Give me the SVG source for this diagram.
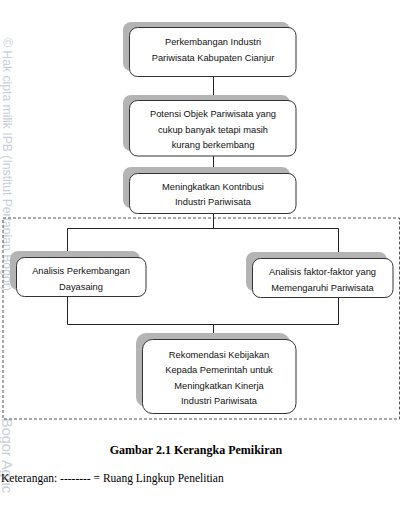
<svg xmlns="http://www.w3.org/2000/svg" width="401" height="516" viewBox="0 0 401 516">
<style>
.box{fill:#fff;stroke:#333;stroke-width:1}
.sh{fill:#b4b4b4}
.t{font-family:"Liberation Sans",Arial,sans-serif;font-size:9.3px;fill:#111;text-anchor:middle}
.ln{stroke:#222;stroke-width:1;fill:none}
.wm{font-family:"Liberation Sans",Arial,sans-serif;fill:#c9ced8}
.cap{font-family:"Liberation Serif","Times New Roman",serif;fill:#000}
</style>
<rect width="401" height="516" fill="#fff"/>
<g id="watermark">
<text class="wm" font-size="12.2" transform="translate(2.5,38) rotate(90)">© Hak cipta milik IPB (Institut Pertanian Bogor)</text>
<text class="wm" font-size="14.5" transform="translate(1.5,418) rotate(90)">Bogor Agric</text>
</g>
<g id="scope">
<rect x="3" y="218" width="396.5" height="201" fill="none" stroke="#555" stroke-width="1" stroke-dasharray="3,2"/>
</g>
<g id="connectors">
<path class="ln" d="M213.5 76V100M213.5 156V173M213.5 213V228.5M67.5 228.5H338.5M67.5 228.5V257M338.5 228.5V258M67.5 296V324.5M338.5 297V324.5M67.5 324.5H338.5M213.5 324.5V339"/>
</g>
<g id="n1">
<rect class="sh" x="123" y="22" width="167" height="49" rx="8"/>
<rect class="box" x="129.5" y="27.5" width="166.5" height="49" rx="8"/>
<text class="t" x="213" y="44.5">Perkembangan Industri</text>
<text class="t" x="213" y="60.5">Pariwisata Kabupaten Cianjur</text>
</g>
<g id="n2">
<rect class="sh" x="123" y="95" width="167" height="56" rx="8"/>
<rect class="box" x="129.5" y="100.5" width="166.5" height="55.5" rx="8"/>
<text class="t" x="213" y="117">Potensi Objek Pariwisata yang</text>
<text class="t" x="213" y="132.5">cukup banyak tetapi masih</text>
<text class="t" x="213" y="148">kurang berkembang</text>
</g>
<g id="n3">
<rect class="sh" x="123" y="167" width="167" height="41" rx="8"/>
<rect class="box" x="129.5" y="173.5" width="166.5" height="40" rx="8"/>
<text class="t" x="213" y="189.5">Meningkatkan Kontribusi</text>
<text class="t" x="213" y="205">Industri Pariwisata</text>
</g>
<g id="n4">
<rect class="sh" x="10" y="251" width="130" height="39" rx="8"/>
<rect class="box" x="16.5" y="257.5" width="129.5" height="39" rx="8"/>
<text class="t" x="81" y="273.5">Analisis Perkembangan</text>
<text class="t" x="81" y="290">Dayasaing</text>
</g>
<g id="n5">
<rect class="sh" x="246" y="252" width="141" height="39" rx="8"/>
<rect class="box" x="252.5" y="258.5" width="140.5" height="39" rx="8"/>
<text class="t" x="322.5" y="274.5">Analisis faktor-faktor yang</text>
<text class="t" x="322.5" y="290.5">Memengaruhi Pariwisata</text>
</g>
<g id="n6">
<rect class="sh" x="136" y="333" width="154" height="74" rx="10"/>
<rect class="box" x="142.5" y="339.5" width="153.5" height="74" rx="10"/>
<text class="t" x="219" y="357.5">Rekomendasi Kebijakan</text>
<text class="t" x="219" y="373">Kepada Pemerintah untuk</text>
<text class="t" x="219" y="388.5">Meningkatkan Kinerja</text>
<text class="t" x="219" y="404">Industri Pariwisata</text>
</g>
<text class="cap" x="196" y="454" font-size="12" font-weight="bold" text-anchor="middle">Gambar 2.1 Kerangka Pemikiran</text>
<text class="cap" x="1" y="482" font-size="11.5">Keterangan: -------- = Ruang Lingkup Penelitian</text>
</svg>
